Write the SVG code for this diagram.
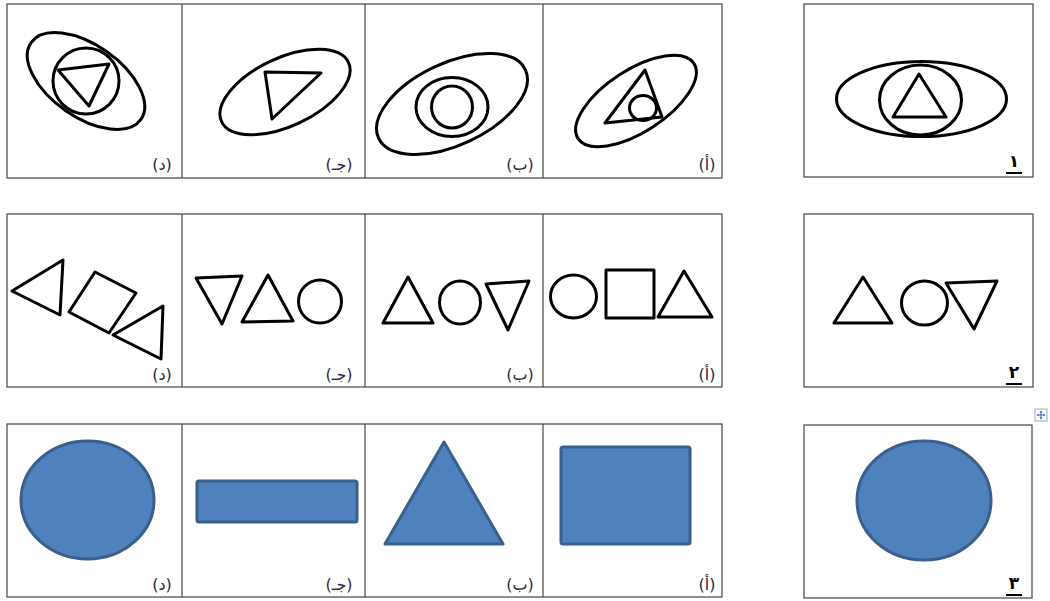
<svg xmlns="http://www.w3.org/2000/svg" width="1050" height="601" viewBox="0 0 1050 601">
<style>
.grid{fill:none;stroke:#444;stroke-width:1.2}
.s{fill:none;stroke:#000;stroke-width:3;stroke-linejoin:round}
.b{fill:#4F81BD;stroke:#3A5F8C;stroke-width:3;stroke-linejoin:round}
.lbl{font-family:"DejaVu Sans",sans-serif;font-size:16px;fill:#2a2a3a;text-anchor:middle}
.num{font-family:"DejaVu Sans",sans-serif;font-size:17px;font-weight:bold;fill:#000;text-anchor:middle}
.ul{stroke:#000;stroke-width:2}
</style>
<rect width="1050" height="601" fill="#fff"/>
<g id="grid">
<rect class="grid" x="7" y="4" width="715" height="174"/>
<line class="grid" x1="182" y1="4" x2="182" y2="178"/>
<line class="grid" x1="365" y1="4" x2="365" y2="178"/>
<line class="grid" x1="543" y1="4" x2="543" y2="178"/>
<rect class="grid" x="804" y="4" width="229" height="173"/>
<rect class="grid" x="7" y="214" width="715" height="173"/>
<line class="grid" x1="182" y1="214" x2="182" y2="387"/>
<line class="grid" x1="365" y1="214" x2="365" y2="387"/>
<line class="grid" x1="543" y1="214" x2="543" y2="387"/>
<rect class="grid" x="804" y="214" width="229" height="173"/>
<rect class="grid" x="7" y="424" width="715" height="173"/>
<line class="grid" x1="182" y1="424" x2="182" y2="597"/>
<line class="grid" x1="365" y1="424" x2="365" y2="597"/>
<line class="grid" x1="543" y1="424" x2="543" y2="597"/>
<rect class="grid" x="804" y="425" width="228" height="173"/>
</g>
<g id="r1d">
<ellipse class="s" cx="86" cy="81" rx="67" ry="36" transform="rotate(35 86 81)"/>
<circle class="s" cx="86" cy="81" r="33"/>
<polygon class="s" points="58,70 109,64 89,106"/>
<text class="lbl" x="162" y="170">(د)</text>
</g>
<g id="r1c">
<ellipse class="s" cx="285" cy="92" rx="70" ry="34" transform="rotate(-25 285 92)"/>
<polygon class="s" points="265,72 321,73 272,119"/>
<text class="lbl" x="339" y="170">(جـ)</text>
</g>
<g id="r1b">
<ellipse class="s" cx="452" cy="104" rx="81" ry="41" transform="rotate(-25 452 104)"/>
<ellipse class="s" cx="452" cy="107" rx="36" ry="29.5"/>
<ellipse class="s" cx="452" cy="107" rx="20.5" ry="21"/>
<text class="lbl" x="520" y="170">(ب)</text>
</g>
<g id="r1a">
<ellipse class="s" cx="636" cy="101" rx="69" ry="31" transform="rotate(-33 636 101)"/>
<polygon class="s" points="645,70 662,117 605,123"/>
<ellipse class="s" cx="643" cy="108" rx="13.5" ry="12.5"/>
<text class="lbl" x="707" y="170">(أ)</text>
</g>
<g id="r1q">
<ellipse class="s" cx="921.5" cy="99" rx="85" ry="37.5"/>
<ellipse class="s" cx="920.5" cy="100" rx="41" ry="35"/>
<polygon class="s" points="919,74 946,117 893,117"/>
<text class="num" x="1014" y="167">١</text>
<line class="ul" x1="1006" y1="173" x2="1022" y2="173"/>
</g>
<g id="r2d">
<polygon class="s" points="12,291 63,260 60,315"/>
<polygon class="s" points="95,272 136,293 109,333 69,312"/>
<polygon class="s" points="163,306 161,359 113,335"/>
<text class="lbl" x="162" y="380">(د)</text>
</g>
<g id="r2c">
<polygon class="s" points="196,278 242,276 222,324"/>
<polygon class="s" points="268,275 293,321 242,322"/>
<circle class="s" cx="320" cy="301.5" r="21.5"/>
<text class="lbl" x="339" y="380">(جـ)</text>
</g>
<g id="r2b">
<polygon class="s" points="408,277 433,323 383,323"/>
<ellipse class="s" cx="460" cy="302.5" rx="20.5" ry="21.5"/>
<polygon class="s" points="486,284 529,281 508,330"/>
<text class="lbl" x="520" y="380">(ب)</text>
</g>
<g id="r2a">
<ellipse class="s" cx="573.5" cy="296.5" rx="23" ry="21.5"/>
<rect class="s" x="606" y="270" width="48" height="48"/>
<polygon class="s" points="684,271 712,317 658,317"/>
<text class="lbl" x="707" y="380">(أ)</text>
</g>
<g id="r2q">
<polygon class="s" points="863,277 892,323 834,323"/>
<ellipse class="s" cx="924.5" cy="303" rx="23" ry="22"/>
<polygon class="s" points="946,283 997,281 974,329"/>
<text class="num" x="1014" y="378">٢</text>
<line class="ul" x1="1006" y1="384" x2="1022" y2="384"/>
</g>
<g id="r3d">
<ellipse class="b" cx="87.5" cy="500" rx="66.5" ry="59"/>
<text class="lbl" x="162" y="590">(د)</text>
</g>
<g id="r3c">
<rect class="b" x="197" y="481" width="160" height="41" rx="2"/>
<text class="lbl" x="339" y="590">(جـ)</text>
</g>
<g id="r3b">
<polygon class="b" points="444,442 503,544 385,544"/>
<text class="lbl" x="520" y="590">(ب)</text>
</g>
<g id="r3a">
<rect class="b" x="561" y="447" width="129" height="97" rx="2"/>
<text class="lbl" x="707" y="590">(أ)</text>
</g>
<g id="r3q">
<ellipse class="b" cx="924" cy="500.5" rx="67" ry="59.5"/>
<text class="num" x="1014" y="589">٣</text>
<line class="ul" x1="1006" y1="595" x2="1022" y2="595"/>
</g>
<g id="handle">
<rect x="1035" y="409" width="12" height="12" fill="#fff" stroke="#9ab" stroke-width="1"/>
<path d="M1041 411v8M1037 415h8" stroke="#3a6fc0" stroke-width="1.2"/>
<path d="M1041 410.5l-1.5 2h3zM1041 419.5l-1.5-2h3zM1036.5 415l2-1.5v3zM1045.5 415l-2-1.5v3z" fill="#3a6fc0"/>
</g>
</svg>
